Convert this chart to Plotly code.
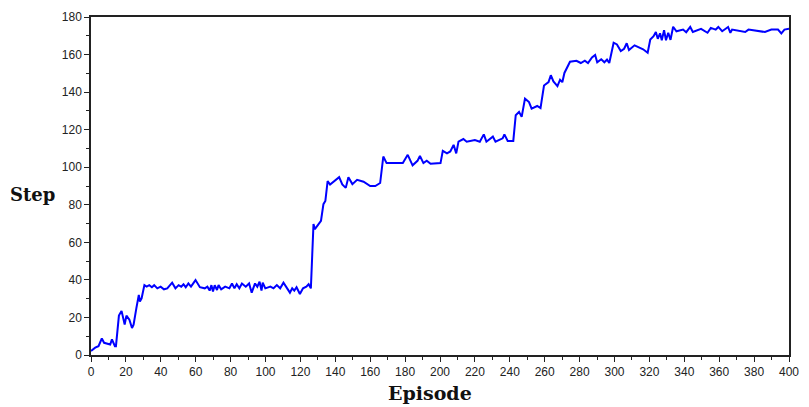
import plotly.graph_objects as go

episode = [0, 2.4, 4.3, 6.2, 7.5, 11, 12, 13.7, 14.3, 16, 17.5, 19.3, 20.3, 22, 23.5, 24.4, 26, 27.4, 28, 29, 30.6,
           31.9, 33.4, 34.9, 36.2, 38, 39.9, 41.8, 43.7, 46.5, 48.4, 50.2, 51.7, 53, 54.3, 55.8, 57.3, 59.9, 62.4,
           65.2, 66.7, 68, 69, 69.9, 70.9, 72.2, 73.1, 74.6, 76.9, 79.3, 80.8, 82.2, 83.5, 85, 86.5, 88.7, 90.6,
           92.1, 94, 95.3, 96.6, 97.7, 98.4, 99.9, 102.8, 104.6, 106.5, 108.4, 110.3, 112.1, 114, 115.3, 116.5,
           117.8, 119.7, 121.5, 123.4, 124.7, 126, 127.5, 128.3, 131.8, 133.2, 134.3, 135.6, 137, 139.4, 142.2,
           144, 146, 147.5, 149.8, 152.5, 156.2, 160, 162.9, 165.7, 167.5, 169.4, 178.7, 181.5, 184.3, 187.1,
           188.5, 190.5, 192.4, 194.6, 200.3, 201.6, 204, 205.9, 207.8, 209.3, 210.6, 213.4, 215.3, 220, 222.8,
           225.1, 226.6, 230.3, 231.8, 235.9, 236.9, 238.8, 242, 243.4, 245.3, 246.8, 248.7, 251, 252.5, 255.7,
           257.6, 259.6, 261.3, 262.2, 263.5, 265, 267.3, 268.8, 270.1, 271.3, 274.5, 278.2, 280.7, 283, 284.8,
           287.1, 288.9, 290.1, 292.4, 294.2, 295.7, 297, 299.5, 301.4, 303.6, 305.5, 307, 308.3, 311.5, 313.9,
           316.4, 319, 320.5, 322.4, 323.7, 324.8, 326.1, 327.1, 328.4, 329.5, 330.8, 332.1, 333.6, 335.5, 339.3,
           341.1, 343.4, 344.9, 349.6, 353.3, 355.2, 358, 359.5, 361.7, 365.1, 366.4, 367.4, 374.9, 376.8, 386.2,
           389.9, 393.7, 395.6, 397.4, 400]
step = [2.1, 3.9, 4.7, 8.8, 6.5, 5.6, 8.3, 4.7, 4.7, 21, 23.5, 16.2, 21, 18.8, 14.4, 16.2, 25, 32, 28.5, 30.2, 37.2,
        36.4, 37.2, 36.1, 37.2, 35.5, 36.4, 35, 35.5, 38.5, 35.5, 37.2, 36.4, 37.7, 36.1, 38.1, 36.4, 39.9, 36.1,
        35.5, 36.4, 34.3, 37.2, 33.8, 37.2, 34.6, 37.2, 35, 36.4, 35.5, 38.1, 35.5, 37.7, 35.5, 38.1, 36.4, 38.1,
        33.2, 38.1, 36.4, 39, 34.3, 38.5, 35.5, 36.4, 35.5, 37.2, 35.5, 38.5, 36.1, 33.2, 35.5, 34.3,
        36.1, 32.5, 35.5, 36.4, 37.7, 35.5, 69.7, 67, 71.5, 80.3, 82, 92.6, 90.8, 92.6, 94.7,
        90.8, 89, 94.7, 91, 93.3, 92.3, 90, 90, 91.6, 105.7, 102.2, 102.2, 106.6, 101, 103.4,
        106, 102.2, 103.5, 101.8, 102.2, 108.7, 107.4, 108.4, 111.9, 107.4, 113.6, 115, 113.6, 114.5, 113.6,
        117.5, 113.6, 116.3, 113.6, 115.4, 117.5, 114, 114, 127.7, 129.5, 126.8, 136.5, 134.7, 131.2, 132.6,
        131.5, 143.5, 144.4, 145.3, 149, 145.7, 143.2, 146.6, 145.3, 150.2, 156.2, 156.7, 155.5, 156.7, 155.5,
        158.5, 159.8, 155.9, 157.5, 155.9, 157.3, 155.5, 166.3, 165.4, 161.9, 163.1, 166, 162.4, 164.9, 163.7,
        162.8, 161, 168, 169.8, 172, 168.4, 171.3, 167.6, 173, 167.6, 171.6, 167.8, 174.8, 172.4, 173.3,
        171.9, 174.7, 172, 173.7, 171.6, 174.2, 173.3, 174.7, 172.4, 174.7, 171.6, 173.3, 172, 173.3, 172,
        173.3, 173.3, 171.3, 173.3, 173.7]

x_ticks = list(range(0, 401, 20))
y_ticks = list(range(0, 181, 20))

fig = go.Figure()
fig.add_trace(go.Scatter(x=episode, y=step, mode="lines",
                         line=dict(color="#0000FF", width=2), showlegend=False))

axis_common = dict(
    showgrid=False, zeroline=False, showline=True, linecolor="#222222", linewidth=1.5,
    mirror=True, ticks="outside", ticklen=5, tickwidth=1.2, tickcolor="#222222",
    tickfont=dict(family="Liberation Sans, Arial, sans-serif", size=12, color="#222222"),
)
fig.update_xaxes(range=[0, 400], tickvals=x_ticks, ticktext=[str(v) for v in x_ticks],
                 minor=dict(dtick=10, ticks="outside", ticklen=3, tickcolor="#222222"),
                 **axis_common)
fig.update_yaxes(range=[0, 180], tickvals=y_ticks, ticktext=[str(v) for v in y_ticks],
                 minor=dict(dtick=10, ticks="outside", ticklen=3, tickcolor="#222222"),
                 **axis_common)

fig.add_annotation(text="<b>Episode</b>", xref="paper", yref="paper", x=0.486, y=-0.112,
                   xanchor="center", yanchor="middle", showarrow=False,
                   font=dict(family="DejaVu Serif, Liberation Serif, serif", size=19, color="#111111"))
fig.add_annotation(text="<b>Step</b>", xref="paper", yref="paper", x=-0.048, y=0.475,
                   xanchor="right", yanchor="middle", showarrow=False,
                   font=dict(family="DejaVu Serif, Liberation Serif, serif", size=18, color="#111111"))

fig.update_layout(
    width=809, height=407,
    margin=dict(l=91, r=10, t=14, b=52),
    paper_bgcolor="white", plot_bgcolor="white",
)

fig.write_html("out.html", config={"displayModeBar": False},
               post_script="document.body.style.margin='0';document.body.style.overflow='hidden';")
